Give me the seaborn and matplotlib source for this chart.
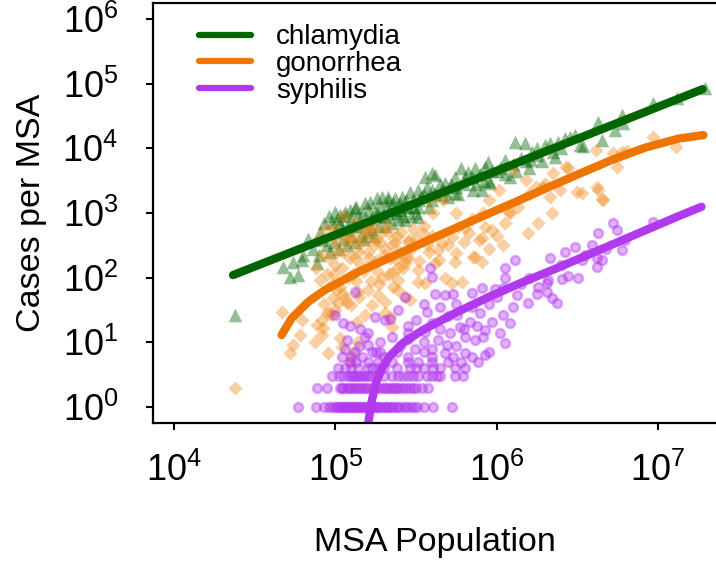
import numpy as np
import pandas as pd
import seaborn as sns
import matplotlib.pyplot as plt
from matplotlib.lines import Line2D

# Values, stored as log10(population) / log10(cases)

# chlamydia scatter
chl_pop_log = [4.378, 4.719, 4.769, 4.678, 4.74, 4.792, 4.885, 4.905, 4.916, 4.998, 4.978, 5.029, 5.06, 5.091,
               5.122, 5.184, 5.215, 5.257, 5.288, 5.329,
               5.0, 5.03, 5.05, 5.08, 5.1, 5.12, 5.15, 5.17, 5.2, 5.22, 5.25, 5.27, 5.3, 5.32, 5.35, 5.38, 5.4,
               5.42, 5.45, 5.48, 5.5, 5.53, 4.95, 4.93, 4.97, 5.02, 5.06, 5.13, 5.18, 5.24,
               5.308, 5.432, 5.515, 5.329, 5.37, 5.412, 5.463, 5.515, 5.567, 5.556, 5.598, 5.618, 5.68, 5.742,
               5.804, 5.825, 5.866, 5.928, 5.949, 6.052, 6.215, 6.114, 6.176, 6.248, 6.3, 5.959, 5.908, 5.856,
               5.742, 5.66, 5.598, 5.515, 5.432, 5.37,
               5.6, 5.65, 5.7, 5.75, 5.78, 5.85, 5.9, 5.95, 6.0, 6.05, 6.1, 6.15, 6.2, 6.25, 6.4,
               6.331, 6.362, 6.383, 6.424, 6.455, 6.486, 6.517, 6.538, 6.631, 6.652, 6.734, 6.776, 6.786, 6.972,
               7.116, 7.292,
               4.96, 4.99, 5.01, 5.04, 5.07, 5.09, 5.11, 5.14, 5.16, 5.19, 5.21, 5.23, 5.26, 5.28, 5.31, 5.33,
               5.36, 5.39, 5.41, 5.44, 5.47, 5.49, 5.52, 5.55, 5.58, 5.62, 5.67, 5.72, 5.76, 5.8, 5.87, 5.92,
               5.97, 6.02, 6.08, 6.12, 6.18, 6.22, 6.28, 6.35, 4.86, 4.83, 4.9, 4.8]
chl_cases_log = [1.42, 2.01, 2.04, 2.168, 2.246, 2.272, 2.221, 2.71, 2.581, 3.019, 2.864, 2.968, 3.019, 3.045,
                 3.071, 3.148, 3.173, 3.225, 3.25, 3.25,
                 2.7, 2.85, 2.6, 2.75, 2.9, 2.55, 2.8, 3.0, 2.7, 2.9, 3.05, 2.8, 2.95, 3.1, 2.85, 3.0, 3.15,
                 2.95, 3.1, 3.2, 3.0, 3.25, 2.5, 2.85, 2.4, 2.45, 2.95, 3.1, 2.6, 2.65,
                 2.941, 2.89, 2.941, 3.2, 3.225, 3.25, 3.328, 3.354, 3.405, 3.56, 3.612, 3.586, 3.457, 3.56,
                 3.56, 3.637, 3.689, 3.714, 3.792, 3.818, 3.818, 4.101, 4.076, 3.998, 4.049, 3.457, 3.354, 3.354,
                 3.303, 3.277, 3.2, 3.096, 3.096, 3.045,
                 3.35, 3.45, 3.25, 3.4, 3.7, 3.55, 3.6, 3.5, 3.65, 3.6, 3.75, 3.85, 3.7, 3.9, 4.0,
                 4.076, 3.869, 4.101, 4.153, 4.178, 4.204, 4.049, 4.034, 4.41, 4.127, 4.281, 4.513, 4.385, 4.694,
                 4.771, 4.926,
                 2.95, 2.55, 2.9, 2.75, 2.5, 2.65, 2.8, 2.95, 2.65, 2.85, 3.05, 2.75, 2.95, 3.1, 2.8, 3.0,
                 3.15, 2.9, 3.05, 3.2, 2.95, 3.1, 3.2, 3.3, 3.1, 3.3, 3.35, 3.45, 3.3, 3.45, 3.45, 3.5,
                 3.65, 3.7, 3.55, 3.65, 3.8, 3.95, 3.8, 3.95, 2.45, 2.6, 2.35, 2.35]

# gonorrhea scatter
gon_pop_log = [4.378, 4.671, 4.74, 4.719, 4.781, 4.874, 4.885, 4.926, 4.916, 4.957, 4.978, 4.947, 5.029, 5.04,
               5.112, 5.091, 5.143, 4.988, 5.019, 5.06, 5.1, 5.133, 5.184, 5.225, 5.267, 5.308, 5.143, 5.205,
               4.792, 4.916, 4.967, 5.07, 5.008, 4.905,
               5.0, 5.05, 5.08, 5.1, 5.12, 5.15, 5.18, 5.2, 5.22, 5.25, 5.28, 5.3, 5.32, 5.35, 5.38, 5.4, 5.45,
               5.48, 4.95, 4.92, 4.98, 5.03, 5.06, 5.13, 5.17, 5.27, 5.33, 5.42, 5.0, 4.9, 4.88, 5.05, 5.12, 5.0,
               4.94, 4.998, 5.133, 5.184, 5.236,
               6.083, 6.259, 6.197, 6.042, 5.908, 5.908, 5.866, 5.928, 5.97, 5.804, 5.742, 5.783, 5.721, 5.68,
               5.618, 5.639, 5.577, 5.556, 5.515, 5.463, 5.432, 5.391, 5.432, 5.453, 5.515, 5.35, 5.391, 5.34,
               5.35, 5.308, 5.66, 5.721, 5.763,
               6.968, 7.112, 6.72, 6.617, 6.43, 6.348, 6.286, 6.496, 6.62, 6.657, 6.1, 6.182, 6.244, 6.079,
               6.017, 5.955, 5.914, 5.893, 5.83, 5.748, 5.666, 5.583, 5.604, 5.542, 5.459, 5.335, 5.253, 5.19,
               5.748, 5.645, 5.852, 5.376,
               6.776, 6.807, 6.745, 6.445, 6.393, 6.331, 6.527, 6.631, 6.652, 6.341,
               4.96, 4.99, 5.01, 5.04, 5.07, 5.09, 5.11, 5.14, 5.16, 5.19, 5.21, 5.24, 5.26, 5.29, 5.31, 5.34,
               5.37, 5.39, 5.41, 5.44, 5.47, 5.5, 5.52, 5.55, 5.58, 5.6, 5.7, 5.8, 5.85, 5.95, 6.0, 6.05, 6.13,
               6.2, 6.3, 4.93, 5.0, 5.05, 5.15, 5.22, 5.29, 5.36]
gon_cases_log = [0.301, 1.473, 0.958, 0.83, 1.113, 1.01, 1.267, 1.216, 1.113, 0.83, 1.422, 1.448, 1.062, 0.932,
                 0.83, 0.7, 1.01, 1.68, 1.603, 1.68, 1.576, 1.318, 1.422, 1.576, 1.731, 1.628, 1.782, 1.808,
                 1.345, 1.345, 1.448, 1.603, 1.808, 1.963,
                 2.2, 2.4, 2.0, 2.6, 2.3, 2.5, 2.1, 2.4, 2.7, 2.25, 2.55, 2.35, 2.8, 2.5, 2.65, 2.4, 2.55,
                 2.75, 2.05, 2.35, 1.9, 1.85, 2.65, 1.95, 2.85, 1.9, 2.05, 2.15, 2.55, 2.6, 2.15, 2.95, 2.85, 2.75,
                 2.75, 2.658, 2.632, 2.762, 2.787,
                 2.994, 2.839, 2.685, 2.504, 2.607, 2.246, 2.323, 2.787, 2.736, 2.762, 2.246, 1.937, 1.912, 1.989,
                 2.221, 2.427, 2.504, 1.912, 1.937, 1.654, 1.705, 1.808, 2.221, 2.298, 2.117, 2.066, 1.963, 1.396,
                 1.241, 1.448, 2.53, 2.632, 2.787,
                 4.178, 4.024, 3.921, 3.972, 3.714, 3.612, 3.405, 3.328, 3.405, 3.2, 3.663, 3.509, 3.405, 3.019,
                 3.354, 3.2, 2.994, 2.581, 2.685, 2.994, 3.2, 3.2, 2.994, 2.685, 2.581, 2.685, 2.581, 2.736,
                 2.375, 2.272, 2.323, 2.272,
                 3.946, 3.961, 3.714, 3.689, 3.354, 3.25, 3.312, 3.354, 3.209, 3.003,
                 2.3, 2.05, 2.4, 2.15, 2.55, 2.3, 2.05, 2.4, 2.2, 2.6, 2.3, 2.5, 2.1, 2.7, 2.45, 2.3,
                 2.55, 2.15, 2.7, 2.3, 2.45, 2.6, 2.25, 2.8, 2.4, 2.65, 2.5, 2.55, 2.9, 2.45, 2.65, 2.85, 3.1,
                 3.3, 3.45, 1.6, 1.5, 1.75, 1.7, 1.95, 2.0, 1.85]

# syphilis scatter: small integer counts (rows at the bottom) by count
syp_low_counts = {
    1: [4.771, 4.88, 4.93, 4.96, 4.978, 5.0, 5.02, 5.04, 5.06, 5.08, 5.1, 5.12, 5.14, 5.16, 5.18, 5.2,
        5.225, 5.25, 5.27, 5.3, 5.32, 5.35, 5.38, 5.41, 5.444, 5.47, 5.506, 5.604, 5.721,
        5.01, 5.03, 5.05, 5.07, 5.09, 5.11, 5.13, 5.15, 5.17, 5.19, 5.21, 5.235, 5.26, 5.28, 5.31, 5.33,
        5.36, 5.39, 5.43, 5.49, 5.55],
    2: [4.885, 4.947, 5.029, 5.05, 5.07, 5.1, 5.13, 5.16, 5.19, 5.236, 5.27, 5.31, 5.34, 5.37, 5.4, 5.44,
        5.48, 5.535, 5.577, 5.04, 5.085, 5.115, 5.145, 5.175, 5.21, 5.25, 5.29, 5.32, 5.355, 5.385, 5.42,
        5.46, 5.5],
    3: [4.978, 5.02, 5.08, 5.11, 5.14, 5.17, 5.2, 5.39, 5.42, 5.45, 5.567, 5.6, 5.628, 5.742, 5.79,
        5.05, 5.095, 5.125, 5.155, 5.185, 5.22, 5.25, 5.3, 5.35, 5.48, 5.51, 5.65],
    4: [5.019, 5.1, 5.2, 5.267, 5.46, 5.608, 5.742, 5.804, 5.06, 5.14, 5.23, 5.3, 5.38, 5.5, 5.55, 5.65],
    5: [5.091, 5.267, 5.515, 5.887, 5.13, 5.2, 5.35, 5.45, 5.6, 5.7, 5.78],
    6: [5.04, 5.164, 5.732, 5.1, 5.3, 5.45, 5.6, 5.85],
    7: [5.12, 5.25, 5.38, 5.55, 5.95],
}
# syphilis scatter: the rest
syp_pop_log = [5.06, 5.07, 5.091, 5.05, 4.998, 5.153, 5.184, 5.205, 5.225, 5.246, 5.308, 5.277, 5.122,
               5.587, 5.598, 5.618, 5.68, 5.732, 5.846, 5.908, 5.99, 6.042, 6.124, 6.052, 6.114, 6.197, 6.259,
               6.31, 6.042, 6.083, 6.021, 6.052, 5.97, 5.928, 5.918, 5.866, 5.804, 5.773, 5.752, 5.835, 5.928,
               5.804, 5.68, 5.639, 5.567, 5.556, 5.494, 5.453, 5.391, 5.35, 5.34, 5.432, 5.711, 5.69,
               6.724, 6.745, 6.631, 6.59, 6.486, 6.424, 6.331, 6.776, 6.797, 6.652, 6.62, 6.62, 6.527, 6.507,
               6.445, 6.403, 6.32, 6.31, 6.341, 6.372, 6.972,
               5.45, 5.5, 5.6, 5.65, 5.7, 5.75, 5.85, 5.9, 5.95, 6.0, 6.1, 6.15, 6.2, 6.25, 6.05, 5.4, 5.45,
               5.55, 5.6, 5.75, 5.8, 5.88, 5.65, 5.2, 5.28, 5.15, 5.55, 6.4, 6.55, 6.68]
syp_cases_log = [0.903, 1.041, 1.255, 1.301, 1.415, 1.204, 1.079, 0.954, 0.845, 1.398, 1.342, 1.0, 1.785,
                 2.144, 2.014, 1.747, 1.731, 1.742, 1.757, 1.834, 1.819, 1.834, 1.731, 2.144, 2.272, 1.603, 1.86,
                 1.912, 1.422, 1.294, 1.139, 0.985, 1.318, 1.19, 1.087, 1.036, 1.087, 1.241, 1.422, 1.318, 0.804,
                 0.83, 0.83, 1.036, 1.473, 1.164, 0.903, 1.139, 1.505, 1.079, 1.362, 1.699, 1.146, 0.954,
                 2.839, 2.736, 2.685, 2.504, 2.478, 2.4, 2.298, 2.427, 2.581, 2.272, 2.301, 2.159, 2.272, 1.989,
                 2.025, 1.978, 1.963, 1.785, 1.68, 1.613, 2.864,
                 1.25, 1.35, 1.3, 1.55, 1.4, 1.6, 1.55, 1.45, 1.6, 1.7, 1.55, 1.9, 2.0, 1.75, 2.0, 0.95, 1.05,
                 1.0, 0.9, 0.95, 1.2, 1.25, 1.2, 1.15, 0.85, 0.95, 1.6, 2.2, 2.35, 2.45]

# fitted curves
chl_fit_pop_log = [4.366, 5.128, 7.277]
chl_fit_cases_log = [2.04, 2.787, 4.915]
gon_fit_pop_log = [4.667, 4.729, 4.833, 4.935, 5.143, 5.329, 5.721, 6.134, 6.331, 6.507, 6.714, 6.92, 7.127, 7.282]
gon_fit_cases_log = [1.113, 1.371, 1.628, 1.808, 2.09, 2.30, 2.74, 3.19, 3.41, 3.60, 3.82, 4.01, 4.15, 4.205]
syp_fit_pop_log = [5.19, 5.205, 5.225, 5.253, 5.29, 5.335, 5.42, 5.542, 5.748, 5.955, 6.161, 6.367, 6.507, 6.714,
                   6.92, 7.127, 7.27]
syp_fit_cases_log = [-0.8, -0.24, 0.08, 0.38, 0.60, 0.78, 0.99, 1.19, 1.46, 1.705, 1.93, 2.14, 2.29, 2.51,
                     2.73, 2.95, 3.096]

diseases = ['chlamydia', 'gonorrhea', 'syphilis']
colors = {'chlamydia': '#006400', 'gonorrhea': '#EE7600', 'syphilis': '#B23AEE'}


def to_df(pop_log, cases_log):
    return pd.DataFrame({'pop': 10 ** np.array(pop_log), 'cases': 10 ** np.array(cases_log)})


low_pop = [p for c in syp_low_counts for p in syp_low_counts[c]]
low_cases = [np.log10(c) for c in syp_low_counts for p in syp_low_counts[c]]
syp_df = to_df(syp_pop_log + low_pop, syp_cases_log + low_cases)

sns.set_style('ticks')
plt.rcParams['font.family'] = ['Liberation Sans', 'DejaVu Sans']
plt.rcParams['mathtext.fontset'] = 'custom'
plt.rcParams['mathtext.rm'] = 'Liberation Sans'
plt.rcParams['mathtext.it'] = 'Liberation Sans:italic'
plt.rcParams['mathtext.bf'] = 'Liberation Sans:bold'
plt.rcParams['text.color'] = 'black'
plt.rcParams['axes.labelcolor'] = 'black'
plt.rcParams['xtick.color'] = 'black'
plt.rcParams['ytick.color'] = 'black'

fig = plt.figure(figsize=(7.16, 5.61), dpi=100)
ax = fig.add_axes([0.2137, 0.2465, 0.7863, 0.7473])
ax.set_xscale('log')
ax.set_yscale('log')

# scatter points
sns.scatterplot(data=to_df(chl_pop_log, chl_cases_log), x='pop', y='cases', marker='^', s=95,
                color=colors['chlamydia'], alpha=0.42, linewidth=0, ax=ax, legend=False)
sns.scatterplot(data=to_df(gon_pop_log, gon_cases_log), x='pop', y='cases', marker='D', s=52,
                color='#F28C1E', alpha=0.42, linewidth=0, ax=ax, legend=False)
sns.scatterplot(data=syp_df, x='pop', y='cases', marker='o', s=42,
                color=colors['syphilis'], edgecolor=colors['syphilis'], alpha=0.4, linewidth=1.8,
                ax=ax, legend=False)

# fitted lines
fits = {'chlamydia': (chl_fit_pop_log, chl_fit_cases_log),
        'gonorrhea': (gon_fit_pop_log, gon_fit_cases_log),
        'syphilis': (syp_fit_pop_log, syp_fit_cases_log)}
for name in diseases:
    d = to_df(*fits[name])
    sns.lineplot(data=d, x='pop', y='cases', sort=False, estimator=None, color=colors[name],
                 linewidth=6, solid_capstyle='round', solid_joinstyle='round', ax=ax, legend=False)

ax.set_xlim(10 ** 3.87, 10 ** 7.36)
ax.set_ylim(10 ** -0.243, 10 ** 6.24)
ax.set_xticks([1e4, 1e5, 1e6, 1e7])
ax.set_yticks([1e0, 1e1, 1e2, 1e3, 1e4, 1e5, 1e6])
ax.minorticks_off()
ax.tick_params(axis='both', which='major', direction='out', length=5, width=1.5,
               labelsize=26, color='black', labelcolor='black')
ax.tick_params(axis='y', pad=20)
ax.tick_params(axis='x', pad=17)

for side in ['left', 'bottom', 'top']:
    ax.spines[side].set_linewidth(1.6)
    ax.spines[side].set_color('black')
ax.spines['right'].set_visible(False)

ax.set_xlabel('MSA Population', fontsize=24.5, labelpad=27)
ax.set_ylabel('Cases per MSA', fontsize=24.5, labelpad=11)

handles = [Line2D([0], [0], color=colors[n], lw=4.5, solid_capstyle='round') for n in diseases]
ax.legend(handles, diseases, loc='upper left', frameon=False, fontsize=20,
          handlelength=1.87, handletextpad=0.9, labelspacing=0.02,
          borderpad=0, borderaxespad=0, bbox_to_anchor=(0.0817, 0.95))

fig.savefig('out.png', dpi=100)
